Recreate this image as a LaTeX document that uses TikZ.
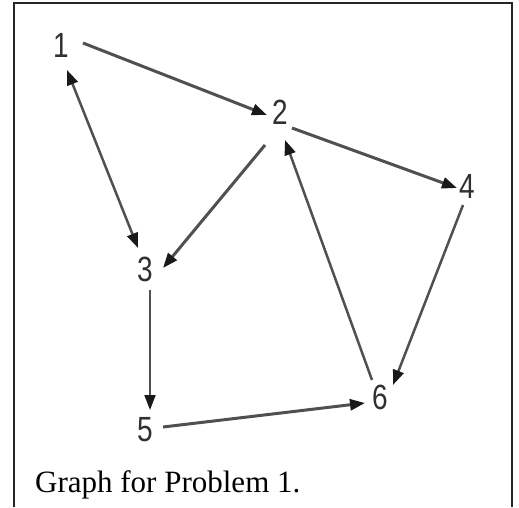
\documentclass[tikz,border=0pt]{standalone}
\usepackage{fontspec}
\setmainfont{Liberation Serif}
\newfontfamily\digitfont{Liberation Sans}
\usetikzlibrary{arrows.meta}
\definecolor{linegray}{HTML}{505050}
\definecolor{digitgray}{HTML}{303030}
\tikzset{
  vlabel/.style={inner sep=0pt, text=digitgray, font=\digitfont\fontsize{35}{35}\selectfont},
  conn/.style={draw=linegray, line width=3pt, -{Triangle[length=15pt,width=11pt,color=black!90]}},
  thinconn/.style={conn, line width=2.5pt},
  frame/.style={draw=black!85, line width=2pt},
}
\newcommand{\dg}[1]{\scalebox{0.8}[1]{#1}}
\begin{document}
\begin{tikzpicture}[x=1pt,y=-1pt]
\useasboundingbox (0,0) rectangle (519,507);
% frame
\draw[frame] (13.5,507) -- (13.5,3) -- (512,3) -- (512,507);
% vertices
\node[vlabel] (n1) at (61,45) {\dg{1}};
\node[vlabel] (n2) at (280,112) {\dg{2}};
\node[vlabel] (n3) at (145,269) {\dg{3}};
\node[vlabel] (n4) at (467,186) {\dg{4}};
\node[vlabel] (n5) at (145,430) {\dg{5}};
\node[vlabel] (n6) at (380,397) {\dg{6}};
% edges
\draw[conn] ([shift={(22,-2)}]n1.center) -- ([shift={(-13,3)}]n2.center);
\draw[thinconn, {Triangle[length=15pt,width=11pt,color=black!90]}-{Triangle[length=15pt,width=11pt,color=black!90]}] ([shift={(6,25)}]n1.center) -- ([shift={(-7,-21)}]n3.center);
\draw[conn] ([shift={(-15,33)}]n2.center) -- ([shift={(18,-1)}]n3.center);
\draw[conn] ([shift={(12,16)}]n2.center) -- ([shift={(-10,2)}]n4.center);
\draw[thinconn] ([shift={(-8,-17)}]n6.center) -- ([shift={(5,28)}]n2.center);
\draw[thinconn] ([shift={(-4,19)}]n4.center) -- ([shift={(13,-12)}]n6.center);
\draw[conn, line width=1.8pt] ([shift={(5,21)}]n3.center) -- ([shift={(5,-20)}]n5.center);
\draw[conn] ([shift={(18,-3)}]n5.center) -- ([shift={(-15,6)}]n6.center);
% caption
\node[anchor=base west, inner sep=0pt, font=\fontsize{31}{36}\selectfont] (cap) at (35,492) {Graph for Problem 1.};
\end{tikzpicture}
\end{document}
